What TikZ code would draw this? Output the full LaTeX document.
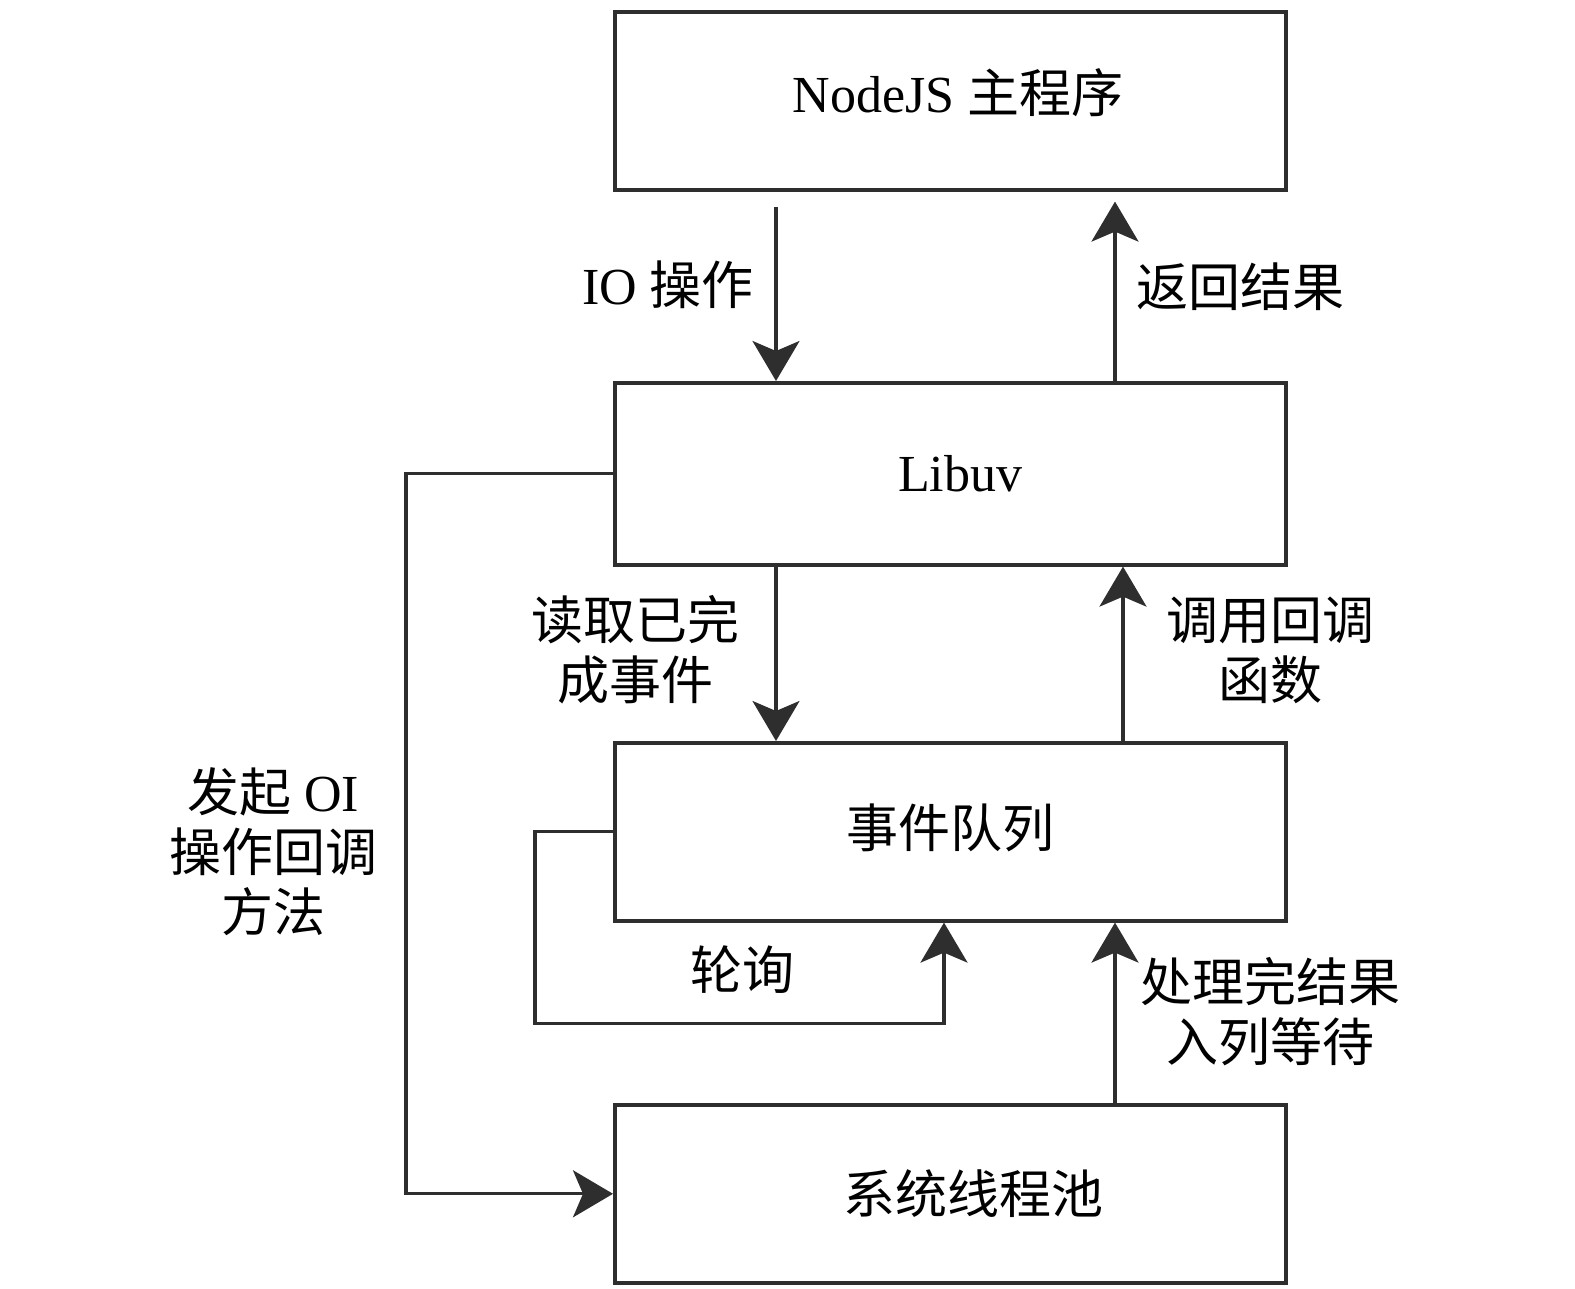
\documentclass[tikz,border=0pt]{standalone}
\usepackage{fontspec}
\setmainfont{Liberation Serif}
\newfontfamily\cjk{Noto Sans CJK SC}
\usepackage{tikz}
\usetikzlibrary{arrows.meta, positioning, calc}
\definecolor{lngray}{HTML}{2E2E2E}

\begin{document}
\begin{tikzpicture}[
  x=0.5pt, y=-0.5pt,
  box/.style={rectangle, draw=lngray, line width=1.8pt, anchor=north west,
    minimum width=335.5pt, minimum height=89pt, inner sep=0pt,
    font=\fontsize{26}{30}\selectfont},
  lbl/.style={font=\fontsize{26}{30}\selectfont, align=center, inner sep=0pt},
  arr/.style={-{Stealth[length=20pt, width=23.5pt, inset=5pt]}, line width=1.6pt, lngray},
]
  \useasboundingbox (0,0) rectangle (1575,1289);

  % boxes
  \node[box] (nodejs) at (613,10) {\raisebox{10pt}{\hspace*{8pt}NodeJS {\cjk 主程序}}};
  \node[box, minimum height=91pt] (libuv) at (613,381) {\hspace*{10pt}Libuv};
  \node[box] (queue) at (613,741) {\raisebox{6pt}{\cjk 事件队列}};
  \node[box] (pool) at (613,1103) {\hspace*{23pt}{\cjk 系统线程池}};

  % labels
  \node[lbl] (iolbl) at (668,285) {IO {\cjk 操作}};
  \node[lbl] (retlbl) at (1240,287) {\cjk 返回结果};
  \node[lbl] (readlbl) at (635,650) {\cjk 读取已完\\\cjk 成事件};
  \node[lbl] (cblbl) at (1270,650) {\cjk 调用回调\\\cjk 函数};
  \node[lbl] (polllbl) at (742,970) {\cjk 轮询};
  \node[lbl] (donelbl) at (1270,1012) {\cjk 处理完结果\\\cjk 入列等待};
  \node[lbl] (oilbl) at (273,852) {{\cjk 发起} OI\\\cjk 操作回调\\\cjk 方法};

  % connectors
  \draw[arr] ($(nodejs.south west)+(163,15)$) -- ($(libuv.north west)+(163,0)$);
  \draw[arr] ($(libuv.north west)+(502,0)$) -- ($(nodejs.south west)+(502,10)$);
  \draw[arr] ($(libuv.south west)+(163,0)$) -- ($(queue.north west)+(163,0)$);
  \draw[arr] ($(queue.north west)+(510,0)$) -- ($(libuv.south west)+(510,0)$);
  \draw[arr] ($(pool.north west)+(502,0)$) -- ($(queue.south west)+(502,0)$);
  \draw[arr] (queue.west) -- ++(-78,0) -- ++(0,192) -| ($(queue.south west)+(331,0)$);
  \draw[arr] (libuv.west) -- ++(-207,0) |- (pool.west);
\end{tikzpicture}
\end{document}
